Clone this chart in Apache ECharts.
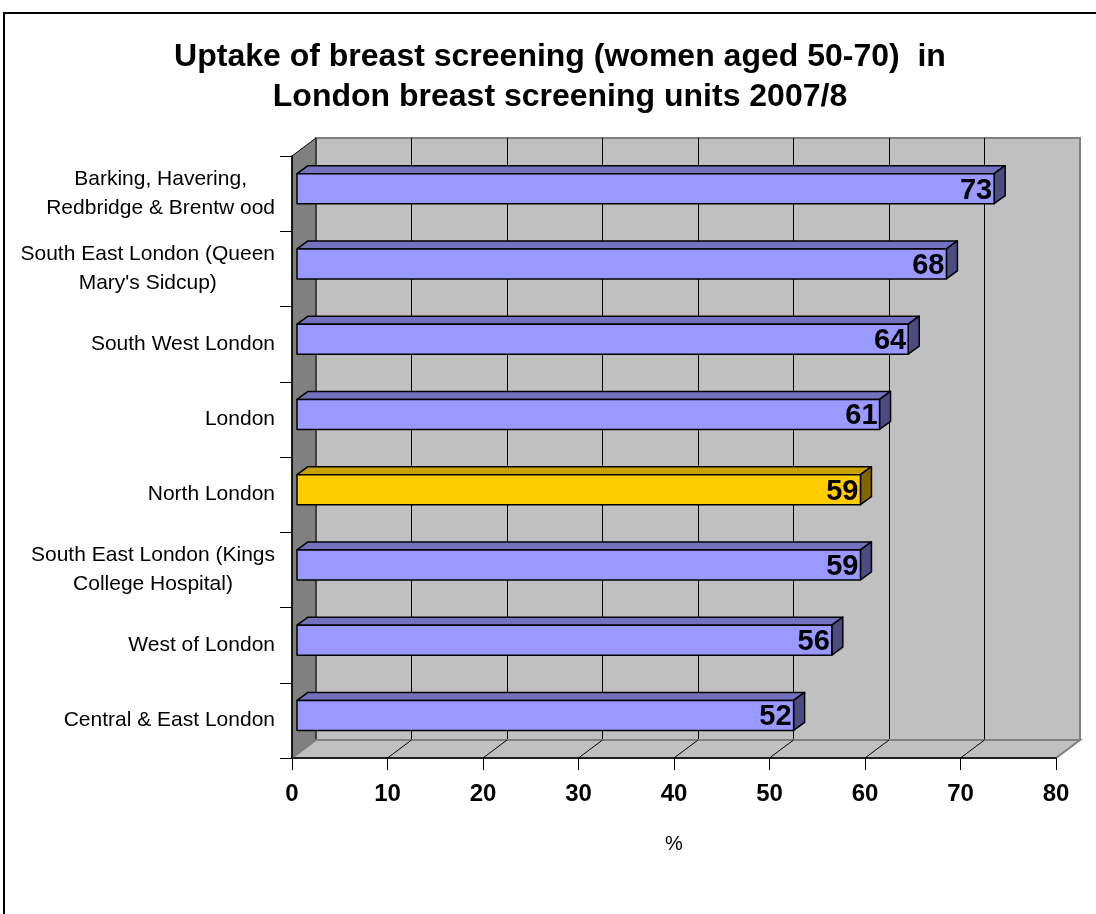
<!DOCTYPE html>
<html>
<head>
<meta charset="utf-8">
<script src="https://cdn.jsdelivr.net/npm/echarts@6/dist/echarts.min.js"></script>
<style>
html,body{margin:0;padding:0;background:#fff}
#chart{width:1096px;height:914px}
</style>
</head>
<body>
<div id="chart"></div>
<script>
// screening units, top to bottom
var units = [
    'Barking, Havering,\nRedbridge & Brentw ood',
    "South East London (Queen\nMary's Sidcup)",
    'South West London',
    'London',
    'North London',
    'South East London (Kings\nCollege Hospital)',
    'West of London',
    'Central & East London'
];
var uptake = [73, 68, 64, 61, 59, 59, 56, 52];
var xTicks = [0, 10, 20, 30, 40, 50, 60, 70, 80];
var highlight = 'North London';

var FONT = 'Arial, "Liberation Sans", sans-serif';
// depth of the 3d box and of the bars
var DX = 24, DY = -18;
var BX = 5, BY = -5, BD = 11, BDY = -8, BH = 30;

var chart = echarts.init(document.getElementById('chart'));

function renderWalls(params, api) {
    var cs = params.coordSys;
    var l = cs.x, t = cs.y, r = cs.x + cs.width, b = cs.y + cs.height;
    return {
        type: 'group',
        children: [
            {type: 'polygon', shape: {points: [[l, t], [l + DX, t + DY], [l + DX, b + DY], [l, b]]},
             style: {fill: '#808080', stroke: '#000', lineWidth: 1}},
            {type: 'polygon', shape: {points: [[l, b], [l + DX, b + DY], [r + DX, b + DY], [r, b]]},
             style: {fill: '#c0c0c0', stroke: '#808080', lineWidth: 2}}
        ]
    };
}

function renderDiag(params, api) {
    var v = api.value(0);
    if (v === xTicks[0] || v === xTicks[xTicks.length - 1]) return;
    var cs = params.coordSys;
    var x = api.coord([v, 0])[0];
    var b = cs.y + cs.height;
    return {type: 'line', shape: {x1: x, y1: b, x2: x + DX, y2: b + DY},
            style: {stroke: '#000', lineWidth: 1}};
}

function renderBar(params, api) {
    var v = api.value(0), c = api.value(1);
    var p0 = api.coord([0, c]), p1 = api.coord([v, c]);
    var x = p0[0] + BX, w = p1[0] - p0[0], y = p0[1] + BY - BH / 2;
    var cols = units[c] === highlight
        ? ['#FFCC00', '#C9A100', '#806600']
        : ['#9999FF', '#7272BF', '#4C4C80'];
    var st = {stroke: '#000', lineWidth: 1.5, lineJoin: 'round'};
    return {
        type: 'group',
        children: [
            {type: 'polygon', shape: {points: [[x, y], [x + BD, y + BDY], [x + w + BD, y + BDY], [x + w, y]]},
             style: Object.assign({fill: cols[1]}, st)},
            {type: 'polygon', shape: {points: [[x + w, y], [x + w + BD, y + BDY], [x + w + BD, y + BH + BDY], [x + w, y + BH]]},
             style: Object.assign({fill: cols[2]}, st)},
            {type: 'rect', shape: {x: x, y: y, width: w, height: BH},
             style: Object.assign({fill: cols[0]}, st)},
            {type: 'text', x: x + w - 2, y: y + BH / 2 + 2,
             style: {text: String(v), fill: '#000', font: 'bold 29px ' + FONT,
                     align: 'right', verticalAlign: 'middle'}}
        ]
    };
}

var option = {
    backgroundColor: '#fff',
    animation: false,
    graphic: [
        {type: 'rect', shape: {x: 4, y: 13, width: 1100, height: 910},
         style: {fill: 'none', stroke: '#000', lineWidth: 2}, z: 0},
        {type: 'text', x: 560, y: 77,
         style: {text: 'Uptake of breast screening (women aged 50-70)  in\nLondon breast screening units 2007/8',
                 font: 'bold 32px ' + FONT, fill: '#000', align: 'center', verticalAlign: 'middle',
                 lineHeight: 40}}
    ],
    grid: [
        {left: 292, top: 156, width: 764, height: 602},
        {left: 316, top: 138, width: 764, height: 602, show: true,
         backgroundColor: '#c0c0c0', borderColor: '#808080', borderWidth: 2}
    ],
    xAxis: [
        {type: 'value', gridIndex: 0, min: 0, max: 80, interval: 10, z: 5,
         name: '%', nameLocation: 'middle', nameGap: 76,
         nameTextStyle: {fontSize: 20, fontFamily: FONT, color: '#000'},
         axisLine: {show: true, lineStyle: {color: '#000', width: 1.5}},
         axisTick: {show: true, length: 12, lineStyle: {color: '#000'}},
         axisLabel: {fontSize: 24, fontWeight: 'bold', fontFamily: FONT, color: '#000', margin: 24},
         splitLine: {show: false}},
        {type: 'value', gridIndex: 1, min: 0, max: 80, interval: 10,
         axisLine: {show: false}, axisTick: {show: false}, axisLabel: {show: false},
         splitLine: {show: true, showMinLine: false, showMaxLine: false, lineStyle: {color: '#000', width: 1}}}
    ],
    yAxis: [
        {type: 'category', gridIndex: 0, data: units, inverse: true, z: 5,
         axisLine: {show: true, lineStyle: {color: '#000', width: 1.5}},
         axisTick: {show: true, length: 12, lineStyle: {color: '#000'}},
         axisLabel: {
             fontSize: 21, fontFamily: FONT, color: '#000', margin: 17, lineHeight: 29,
             formatter: function (v) {
                 return v.split('\n').map(function (s) { return '{c|' + s + '}'; }).join('\n');
             },
             rich: {c: {align: 'center', fontSize: 21, fontFamily: FONT, color: '#000', lineHeight: 29}}
         }},
        {type: 'value', gridIndex: 1, show: false, splitLine: {show: false}}
    ],
    series: [
        {type: 'custom', xAxisIndex: 0, yAxisIndex: 0, z: 1, silent: true,
         data: [[0, 0]], renderItem: renderWalls},
        {type: 'custom', xAxisIndex: 0, yAxisIndex: 0, z: 2, silent: true,
         data: xTicks.map(function (t) { return [t, 0]; }), renderItem: renderDiag},
        {type: 'custom', xAxisIndex: 0, yAxisIndex: 0, z: 3,
         data: uptake.map(function (v, i) { return [v, i]; }), renderItem: renderBar}
    ]
};
chart.setOption(option);
</script>
</body>
</html>
